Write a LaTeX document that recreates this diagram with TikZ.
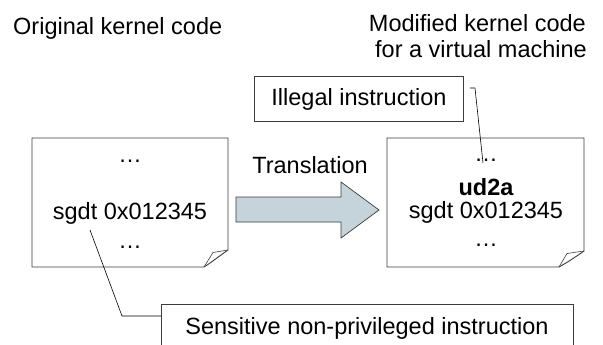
\documentclass[tikz,border=0pt]{standalone}
\usepackage{fontspec}
\setmainfont{Liberation Sans}
\definecolor{arrowfill}{RGB}{197,211,219}
\definecolor{linegray}{RGB}{60,60,60}
\begin{document}
\begin{tikzpicture}[x=1pt,y=-1pt,
  txt/.style={font=\fontsize{23.5}{28}\selectfont, inner sep=0pt},
  docline/.style={draw=linegray, line width=0.9pt, fill=white},
  boxline/.style={draw=linegray, line width=0.9pt},
  conn/.style={draw=black, line width=0.6pt}]
\useasboundingbox (0,0) rectangle (603,345);
\clip (0,0) rectangle (603,345);

% titles
\node[txt, anchor=base west] (orig) at (13,35) {Original kernel code};
\node[txt, anchor=base east] (mod1) at (586,32) {Modified kernel code};
\node[txt, anchor=base east] (mod2) at (587,58) {for a virtual machine};

% left document
\path[docline] (32,138) -- (228,138) -- (228,250)
  .. controls (218,257) and (212,262) .. (204,267) -- (32,267) -- cycle;
\draw[boxline, line width=0.6pt] (228,250) -- (213,252.5) -- (204,267);
\node[txt] (l1) at (130,161) {\dots};
\node[txt] (lsgdt) at (130,213) {sgdt 0x012345};
\node[txt] (l2) at (130,247) {\dots};

% right document
\path[docline] (387,138) -- (584,138) -- (584,251)
  .. controls (574,258) and (568,262) .. (559,267) -- (387,267) -- cycle;
\draw[boxline, line width=0.6pt] (584,251) -- (567,253.5) -- (559,267);
\node[txt] (r1) at (486,160) {\dots};
\node[txt, font=\fontsize{23.5}{28}\selectfont\bfseries] (rud) at (486,187) {ud2a};
\node[txt] (rsgdt) at (486,212) {sgdt 0x012345};
\node[txt] (r2) at (486,245) {\dots};

% translation arrow
\path[draw=linegray, line width=0.7pt, fill=arrowfill]
  (236,197) -- (341,197) -- (341,182) -- (379,210) -- (341,238) -- (341,222) -- (236,222) -- cycle;
\node[txt] (trans) at (310,165) {Translation};

% illegal instruction box
\node[boxline, fill=white, minimum width=209pt, minimum height=45pt, anchor=north west,
      font=\fontsize{23.5}{28}\selectfont] (illegal) at (254,76) {Illegal instruction};
\coordinate (ia) at (470,88);
\coordinate (ib) at (475,88);
\coordinate (ic) at (483,163);
\draw[conn] (ia) -- (ib) -- (ic);

% sensitive box (bottom cut off)
\node[boxline, fill=white, minimum width=412pt, minimum height=60pt, anchor=north west,
      font=\fontsize{23.5}{28}\selectfont, text depth=0pt] (sens) at (161,304) {};
\node[txt, anchor=base] (senstxt) at (367,334) {Sensitive non-privileged instruction};
\coordinate (sa) at (90,230);
\coordinate (sb) at (122,316);
\draw[conn] (sa) -- (sb) -- (sens.west |- sb);
\end{tikzpicture}
\end{document}
